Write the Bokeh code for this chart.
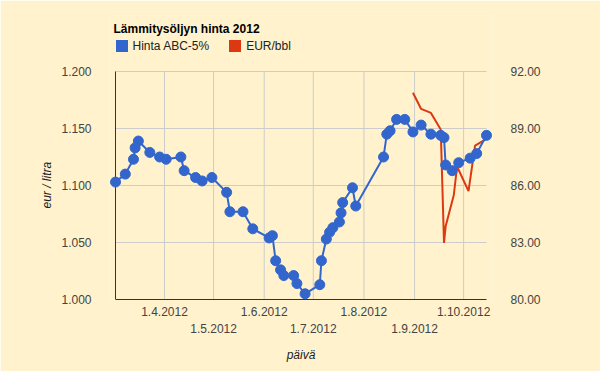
import pandas as pd
from bokeh.plotting import figure
from bokeh.models import (Range1d, LinearAxis, DatetimeAxis, FixedTicker, Title,
                          CustomJSTickFormatter, NumeralTickFormatter, Legend, LegendItem)
from bokeh.embed import file_html
from bokeh.resources import INLINE

# ---------------- data ----------------
chart_title = "Lämmitysöljyn hinta 2012"
series_blue = "Hinta ABC-5%"
series_red = "EUR/bbl"
y_left_label = "eur / litra"
x_label = "päivä"

blue_dates = ["2012-03-02", "2012-03-08", "2012-03-13", "2012-03-14", "2012-03-16",
              "2012-03-23", "2012-03-29", "2012-04-02", "2012-04-11", "2012-04-13",
              "2012-04-20", "2012-04-24", "2012-04-30", "2012-05-09", "2012-05-11",
              "2012-05-19", "2012-05-25", "2012-06-04", "2012-06-06", "2012-06-08",
              "2012-06-11", "2012-06-13", "2012-06-19", "2012-06-21", "2012-06-26",
              "2012-07-05", "2012-07-06", "2012-07-09", "2012-07-11", "2012-07-13",
              "2012-07-17", "2012-07-18", "2012-07-19", "2012-07-25", "2012-07-27",
              "2012-08-13", "2012-08-15", "2012-08-17", "2012-08-21", "2012-08-26",
              "2012-08-31", "2012-09-05", "2012-09-11", "2012-09-17", "2012-09-19",
              "2012-09-20", "2012-09-24", "2012-09-28", "2012-10-05", "2012-10-09",
              "2012-10-15"]
blue_values = [1.103, 1.110, 1.123, 1.133, 1.139,
               1.129, 1.125, 1.123, 1.125, 1.113,
               1.107, 1.104, 1.107, 1.094, 1.077,
               1.077, 1.062, 1.054, 1.056, 1.034,
               1.026, 1.021, 1.021, 1.014, 1.005,
               1.013, 1.034, 1.053, 1.059, 1.063,
               1.068, 1.076, 1.085, 1.098, 1.082,
               1.125, 1.145, 1.148, 1.158, 1.158,
               1.147, 1.153, 1.145, 1.144, 1.142,
               1.118, 1.113, 1.120, 1.124, 1.128,
               1.144]

red_dates = ["2012-08-31", "2012-09-05", "2012-09-11", "2012-09-17", "2012-09-19",
             "2012-09-20", "2012-09-25", "2012-09-27", "2012-10-04", "2012-10-08",
             "2012-10-15"]
red_values = [90.88, 90.03, 89.82, 88.95, 82.98,
              83.85, 85.50, 87.00, 85.70, 88.10,
              88.45]

x_ticks_upper = ["2012-04-01", "2012-06-01", "2012-08-01", "2012-10-01"]
x_ticks_lower = ["2012-05-01", "2012-07-01", "2012-09-01"]
left_ticks = [1.000, 1.050, 1.100, 1.150, 1.200]
right_ticks = [80.0, 83.0, 86.0, 89.0, 92.0]

# ---------------- styles / layout ----------------
BG = "#FFF2CC"
BLUE = "#3366CC"
RED = "#DC3912"
FONT = "Liberation Sans"
TICK_COLOR = "#444444"
GRID = "#CCCCCC"

W, H = 600, 371
PLOT_L, PLOT_R, PLOT_T, PLOT_B = 115, 486, 71, 299   # visible data area (px)
PAD_X = 6         # frame extends beyond the data area so edge markers are not clipped
FRAME_T = 15      # frame extends up to hold the title + legend


def ms(d):
    return pd.Timestamp(d).value / 1e6


bd = pd.to_datetime(blue_dates)
rd = pd.to_datetime(red_dates)

x0, x1 = bd[0], bd[-1]
px_per_ms = (PLOT_R - PLOT_L) / (ms(x1) - ms(x0))
pad_ms = PAD_X / px_per_ms
yl0, yl1 = left_ticks[0], left_ticks[-1]
yr0, yr1 = right_ticks[0], right_ticks[-1]
ext_frac = (PLOT_T - FRAME_T) / (PLOT_B - PLOT_T)

p = figure(width=W, height=H, output_backend="svg", toolbar_location=None,
           x_axis_type="datetime",
           x_range=Range1d(ms(x0) - pad_ms, ms(x1) + pad_ms),
           y_range=Range1d(yl0, yl1 + (yl1 - yl0) * ext_frac),
           min_border_left=PLOT_L - PAD_X, min_border_right=W - PLOT_R - PAD_X,
           min_border_top=FRAME_T, min_border_bottom=H - PLOT_B,
           background_fill_color=BG, border_fill_color=BG, outline_line_color=None)
p.title.text = ""

p.extra_y_ranges = {"eur": Range1d(yr0, yr1 + (yr1 - yr0) * ext_frac)}

date_fmt = CustomJSTickFormatter(code="""
const d = new Date(tick);
return d.getUTCDate() + '.' + (d.getUTCMonth() + 1) + '.' + d.getUTCFullYear();
""")

# x axis, first row of labels
xa = p.xaxis[0]
xa.ticker = FixedTicker(ticks=[ms(d) for d in x_ticks_upper])
xa.formatter = date_fmt
xa.bounds = (ms(x0), ms(x1))

# x axis, second row of labels
xa2 = DatetimeAxis(ticker=FixedTicker(ticks=[ms(d) for d in x_ticks_lower]),
                   formatter=date_fmt)
xa2.bounds = (ms(x0), ms(x1))
p.add_layout(xa2, "below")

for ax in (xa, xa2):
    ax.major_tick_line_color = None
    ax.minor_tick_line_color = None
    ax.major_tick_out = 0
    ax.major_label_text_font = FONT
    ax.major_label_text_font_size = "12px"
    ax.major_label_text_color = TICK_COLOR
xa.axis_line_color = "#333333"
xa.major_label_standoff = 7
xa2.axis_line_color = None
xa2.major_label_standoff = 5
xa2.axis_label = x_label
xa2.axis_label_text_font = FONT
xa2.axis_label_text_font_size = "12px"
xa2.axis_label_text_font_style = "italic"
xa2.axis_label_text_color = "#222222"
xa2.axis_label_standoff = 12

ya = p.yaxis[0]
ya.ticker = FixedTicker(ticks=left_ticks)
ya.formatter = NumeralTickFormatter(format="0.000")
ya.bounds = (yl0, yl1)

ya2 = LinearAxis(y_range_name="eur", ticker=FixedTicker(ticks=right_ticks),
                 formatter=NumeralTickFormatter(format="0.00"))
ya2.bounds = (yr0, yr1)
p.add_layout(ya2, "right")

for ax in (ya, ya2):
    ax.axis_line_color = None
    ax.major_tick_line_color = None
    ax.minor_tick_line_color = None
    ax.major_tick_out = 0
    ax.major_label_standoff = 12 + PAD_X
    ax.major_label_text_font = FONT
    ax.major_label_text_font_size = "12px"
    ax.major_label_text_color = TICK_COLOR

# y axis title as a left-side Title, positioned along the data area
ytitle = Title(text=y_left_label, align="left", offset=91, standoff=10,
               text_font=FONT, text_font_size="12px", text_font_style="italic",
               text_color="#222222")
p.add_layout(ytitle, "left")

# grid lines limited to the data area
p.xgrid.visible = False
p.ygrid.visible = False
month_ticks = pd.to_datetime(sorted(x_ticks_upper + x_ticks_lower))
p.segment(x0=month_ticks, y0=[yl0] * len(month_ticks), x1=month_ticks,
          y1=[yl1] * len(month_ticks), line_color=GRID, line_width=1, level="underlay")
p.segment(x0=[x0] * len(left_ticks[1:]), y0=left_ticks[1:], x1=[x1] * len(left_ticks[1:]),
          y1=left_ticks[1:], line_color=GRID, line_width=1, level="underlay")
# left axis line
p.segment(x0=[x0], y0=[yl0], x1=[x0], y1=[yl1], line_color="#333333", line_width=1)

# series
p.line(rd, red_values, y_range_name="eur", line_color=RED, line_width=2)
p.line(bd, blue_values, line_color=BLUE, line_width=2)
p.scatter(bd, blue_values, size=10, fill_color=BLUE, line_color=BLUE)

# legend swatches: zero-area quads anchored at the first data point
lb = p.quad(left=[x0], right=[x0], top=[yl0], bottom=[yl0],
            fill_color=BLUE, line_color=None)
lr = p.quad(left=[x0], right=[x0], top=[yl0], bottom=[yl0],
            fill_color=RED, line_color=None)
legend = Legend(items=[LegendItem(label=series_blue, renderers=[lb]),
                       LegendItem(label=series_red, renderers=[lr])],
                title=chart_title,
                title_text_font=FONT, title_text_font_size="12px",
                title_text_font_style="bold", title_text_color="#000000",
                title_standoff=2,
                orientation="horizontal",
                location=(PAD_X - 1.5, PLOT_B - 53.3),
                background_fill_alpha=0, border_line_color=None,
                padding=0, margin=0, spacing=18,
                glyph_width=15, glyph_height=15, label_standoff=4,
                label_height=15,
                label_text_font=FONT, label_text_font_size="12px",
                label_text_color="#222222")
p.add_layout(legend, "center")

html = file_html(p, INLINE, title=chart_title)
html = html.replace("<body>", '<body style="background-color:%s;">' % BG, 1)
open("out.html", "w").write(html)
